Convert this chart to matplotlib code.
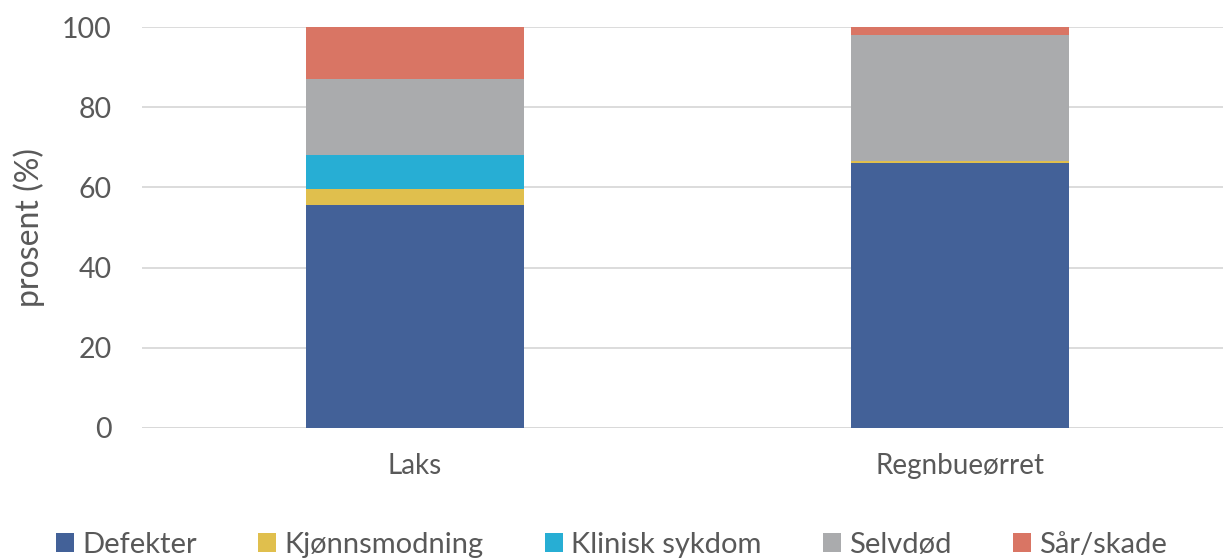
import numpy as np
import matplotlib.pyplot as plt

plt.rcParams['font.family'] = ['Lato', 'DejaVu Sans']

categories = ['Laks', 'Regnbueørret']
series = ['Defekter', 'Kjønnsmodning', 'Klinisk sykdom', 'Selvdød', 'Sår/skade']
defekter = [55.6, 66.2]
kjonnsmodning = [4.0, 0.4]
klinisk = [8.5, 0.0]
selvdod = [19.0, 31.3]
sar = [12.9, 2.1]
colors = ['#436198', '#e0bf4d', '#27aed4', '#aaabad', '#d97564']

values = [defekter, kjonnsmodning, klinisk, selvdod, sar]

fig = plt.figure(figsize=(12.23, 5.59), dpi=100)
ax = fig.add_axes([142 / 1223, 1 - 428 / 559, 1090 / 1223, 401 / 559])

x = np.arange(len(categories))
bottom = np.zeros(len(categories))
handles = []
for name, vals, c in zip(series, values, colors):
    b = ax.bar(x, vals, width=0.4, bottom=bottom, color=c, label=name, zorder=3)
    handles.append(b)
    bottom += np.array(vals)

ax.set_xlim(-0.5, 1.5)
ax.set_ylim(0, 100)
ax.set_yticks(range(0, 101, 20))
ax.yaxis.grid(True, color='#d9d9d9', linewidth=1.3, zorder=0)
ax.axhline(0, color='#d9d9d9', linewidth=1.3, zorder=1)
for s in ax.spines.values():
    s.set_visible(False)
ax.tick_params(axis='both', length=0, colors='#595959')
ax.tick_params(axis='y', labelsize=20.5, pad=22)
ax.tick_params(axis='x', labelsize=20, pad=18)
ax.set_xticks(x)
ax.set_xticklabels(categories)
ax.set_ylabel('prosent (%)', fontsize=23, color='#595959', labelpad=12)

fig.legend(handles=handles, labels=series, loc='lower center', ncol=5,
           bbox_to_anchor=(0.5, -0.045), frameon=False, fontsize=21,
           handlelength=0.62, handleheight=0.62, handletextpad=0.28,
           columnspacing=2.1, labelcolor='#595959')

fig.savefig('out.png', dpi=100)
